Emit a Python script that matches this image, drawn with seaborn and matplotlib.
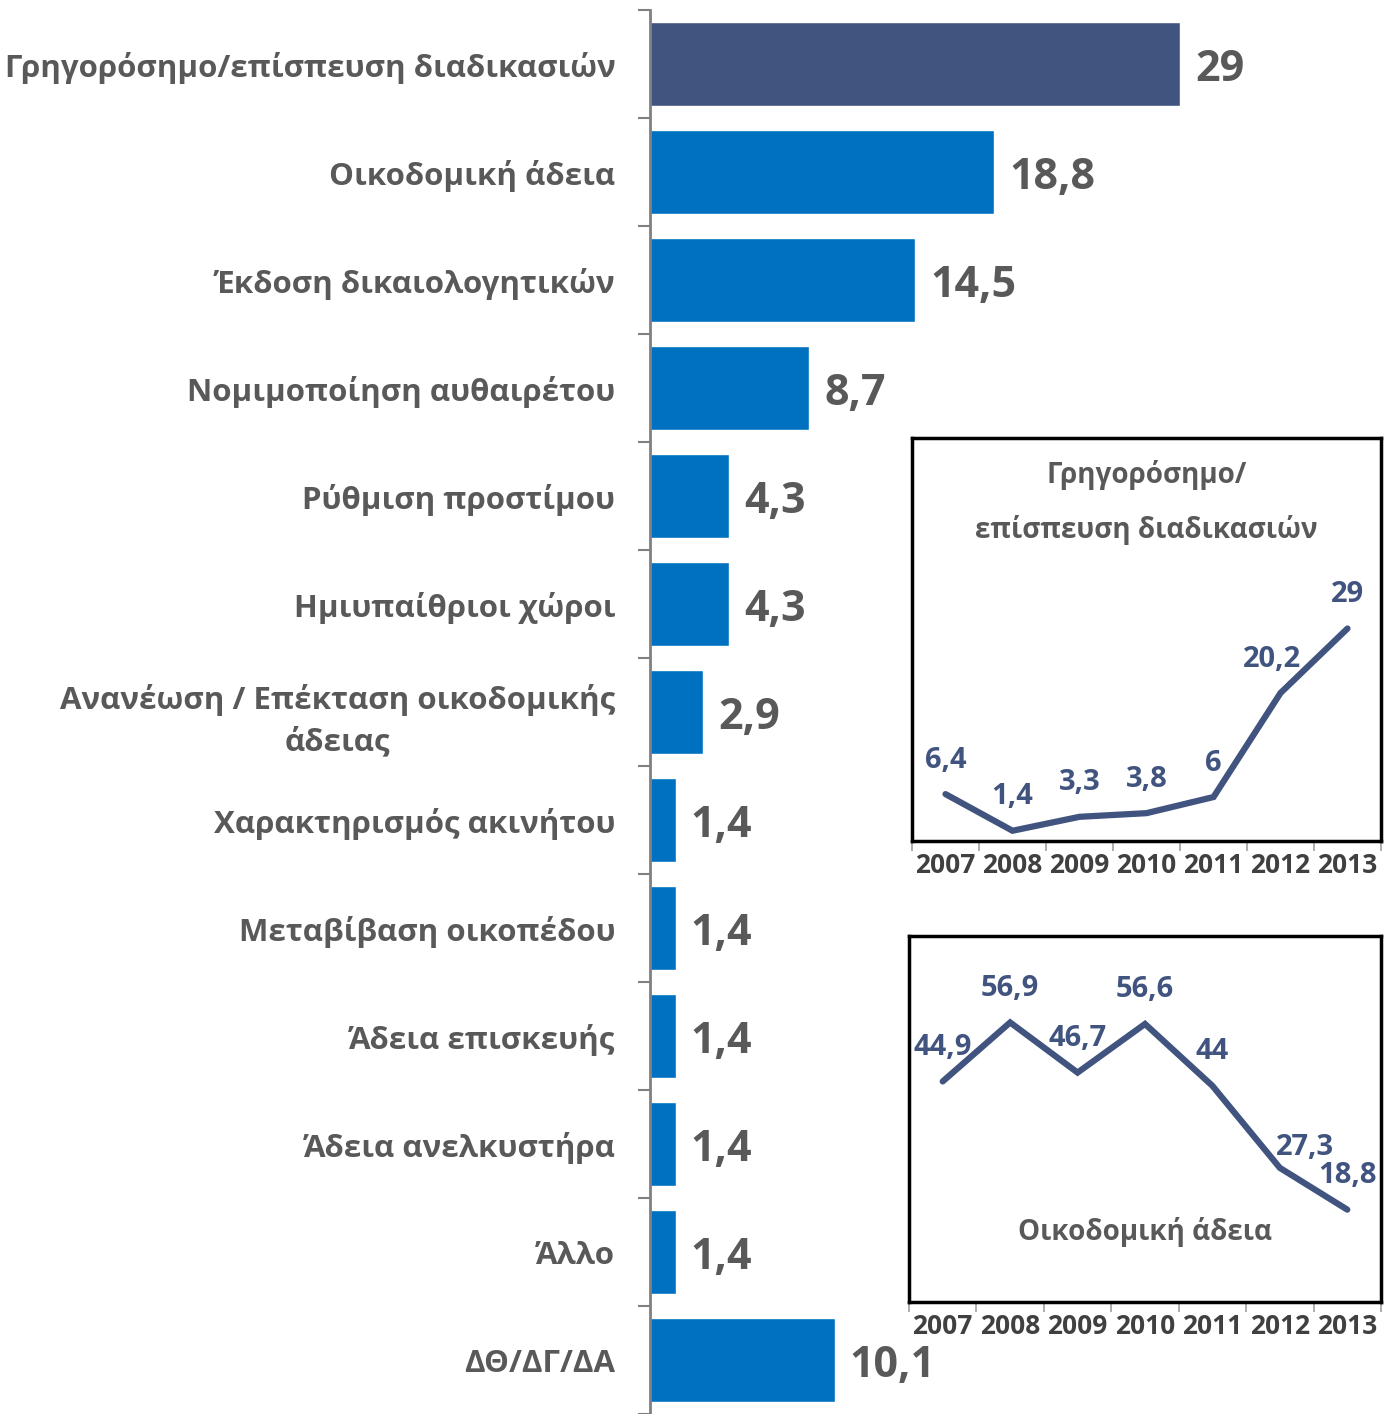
import numpy as np
import pandas as pd
import seaborn as sns
import matplotlib.pyplot as plt

# Data
categories = [
    "Γρηγορόσημο/επίσπευση διαδικασιών",
    "Οικοδομική άδεια",
    "Έκδοση δικαιολογητικών",
    "Νομιμοποίηση αυθαιρέτου",
    "Ρύθμιση προστίμου",
    "Ημιυπαίθριοι χώροι",
    "Ανανέωση / Επέκταση οικοδομικής\nάδειας",
    "Χαρακτηρισμός ακινήτου",
    "Μεταβίβαση οικοπέδου",
    "Άδεια επισκευής",
    "Άδεια ανελκυστήρα",
    "Άλλο",
    "ΔΘ/ΔΓ/ΔΑ",
]
values = [29, 18.8, 14.5, 8.7, 4.3, 4.3, 2.9, 1.4, 1.4, 1.4, 1.4, 1.4, 10.1]

years = ["2007", "2008", "2009", "2010", "2011", "2012", "2013"]
fast_track = [6.4, 1.4, 3.3, 3.8, 6, 20.2, 29]
building_permit = [44.9, 56.9, 46.7, 56.6, 44, 27.3, 18.8]

sns.set_style("white")
plt.rcParams['font.family'] = ['Open Sans', 'DejaVu Sans']
plt.rcParams['font.weight'] = 'bold'

GRAY = '#595959'
NAVY = '#41547F'
BLUE = '#0070C0'


def fmt(v):
    return f"{v:g}".replace('.', ',')


fig = plt.figure(figsize=(13.91, 14.14), dpi=100)

# Main bar chart
ax = fig.add_axes([650 / 1391, 0, 741 / 1391, 1404 / 1414])
df = pd.DataFrame({'cat': categories, 'val': values})
colors = [NAVY] + [BLUE] * (len(categories) - 1)
sns.barplot(data=df, y='cat', x='val', hue='cat', palette=colors,
            orient='h', width=0.77, legend=False, ax=ax, saturation=1)
ax.set_xlim(0, 741 / 18.28)
ax.set_ylim(12.38, -0.5)
ax.set_xlabel('')
ax.set_ylabel('')
ax.set_xticks([])
for s in ['top', 'right', 'bottom']:
    ax.spines[s].set_visible(False)
ax.spines['left'].set_color('#808080')
ax.spines['left'].set_linewidth(2)
ax.set_yticks(range(len(categories)))
ax.set_yticklabels(categories, fontsize=22.5, color=GRAY, fontweight='bold',
                   ha='right', multialignment='center', linespacing=1.45)
ax.tick_params(axis='y', which='major', left=True, length=0, pad=25)
ax.set_yticks(np.arange(-0.5, len(categories), 1), minor=True)
ax.tick_params(axis='y', which='minor', left=True, length=9, width=1.5, color='#808080')
for i, v in enumerate(values):
    ax.annotate(fmt(v), xy=(v, i), xytext=(11, -4), textcoords='offset points',
                va='center', ha='left', fontsize=31, fontweight='bold', color=GRAY)


def inset(rect, data, ymax, title, title_y, offsets):
    a = fig.add_axes(rect)
    d = pd.DataFrame({'year': years, 'v': data})
    sns.lineplot(data=d, x='year', y='v', color=NAVY, linewidth=4.5, ax=a,
                 solid_capstyle='round', solid_joinstyle='miter')
    a.set_xlim(-0.5, 6.5)
    a.set_ylim(0, ymax)
    a.set_xlabel('')
    a.set_ylabel('')
    a.set_yticks([])
    for s in a.spines.values():
        s.set_color('black')
        s.set_linewidth(2.5)
    a.set_xticks(range(7))
    a.set_xticklabels(years, fontsize=19, color='#404040', fontweight='bold')
    a.tick_params(axis='x', which='major', bottom=True, length=0, pad=8)
    a.set_xticks(np.arange(-0.5, 7, 1), minor=True)
    a.tick_params(axis='x', which='minor', bottom=True, length=7, width=1.2, color='#A0A0A0')
    for i, v in enumerate(data):
        dx, dy = offsets[i]
        a.annotate(fmt(v), xy=(i, v), xytext=(dx, dy), textcoords='offset points',
                   ha='center', va='bottom', fontsize=21, fontweight='bold', color=NAVY)
    a.text(0.5, title_y, title, transform=a.transAxes, ha='center', va='center',
           fontsize=20, fontweight='bold', color=GRAY, linespacing=2.1)
    return a


inset([912 / 1391, 1 - 841 / 1414, 469 / 1391, 403 / 1414], fast_track, 55,
      "Γρηγορόσημο/\nεπίσπευση διαδικασιών", 0.84,
      [(0, 14), (0, 14), (0, 14), (0, 14), (0, 14), (-6, 14), (0, 14)])
inset([909 / 1391, 1 - 1302 / 1414, 472 / 1391, 366 / 1414], building_permit, 74.5,
      "Οικοδομική άδεια", 0.19,
      [(0, 14), (0, 14), (0, 14), (0, 14), (0, 14), (18, 4), (0, 14)])

fig.savefig('out.png', dpi=100)
